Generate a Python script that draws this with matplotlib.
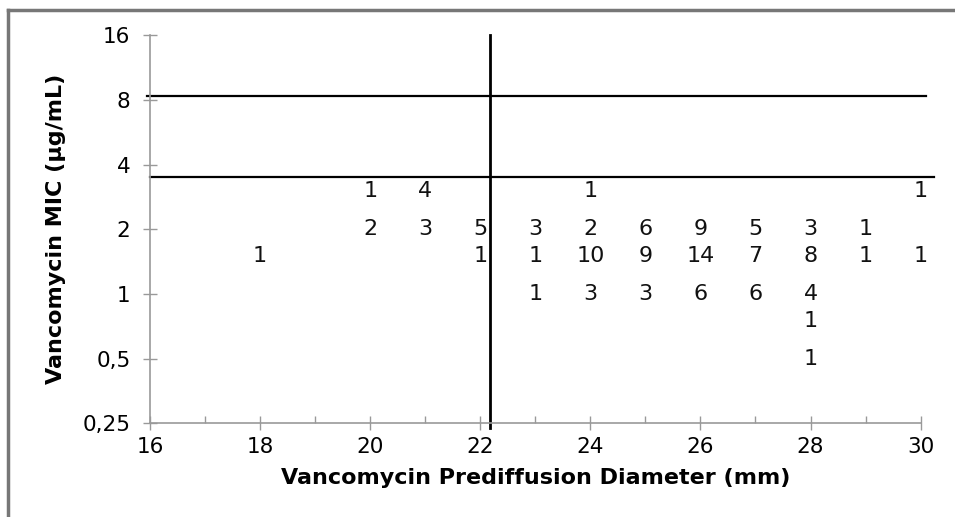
import matplotlib.pyplot as plt
from matplotlib.lines import Line2D
from matplotlib.ticker import FixedLocator, NullFormatter

# ---------------------------
# Data: counts of isolates per (diameter, MIC)
# ---------------------------
diameters = [20, 21, 24, 30,
             20, 21, 22, 23, 24, 25, 26, 27, 28, 29,
             18, 22, 23, 24, 25, 26, 27, 28, 29, 30,
             23, 24, 25, 26, 27, 28,
             28,
             28]
mics = [3, 3, 3, 3,
        2, 2, 2, 2, 2, 2, 2, 2, 2, 2,
        1.5, 1.5, 1.5, 1.5, 1.5, 1.5, 1.5, 1.5, 1.5, 1.5,
        1, 1, 1, 1, 1, 1,
        0.75,
        0.5]
counts = [1, 4, 1, 1,
          2, 3, 5, 3, 2, 6, 9, 5, 3, 1,
          1, 1, 1, 10, 9, 14, 7, 8, 1, 1,
          1, 3, 3, 6, 6, 4,
          1,
          1]

y_ticks = [0.25, 0.5, 1, 2, 4, 8, 16]
y_tick_labels = ["0,25", "0,5", "1", "2", "4", "8", "16"]
x_ticks = [16, 18, 20, 22, 24, 26, 28, 30]
x_minor = [17, 19, 21, 23, 25, 27, 29]

# breakpoint lines
mic_upper = 8.3
mic_lower = 3.5
diam_break = 22.18

plt.rcParams.update({
    "font.family": ["DejaVu Sans"],
    "font.size": 15,
})

fig = plt.figure(figsize=(9.55, 5.17), dpi=100)
ax = fig.add_axes([0.157, 0.181, 0.807, 0.751])

ax.set_yscale("log", base=2)
ax.set_xlim(16, 30)
ax.set_ylim(0.25, 16)

for x, y, c in zip(diameters, mics, counts):
    ax.text(x, y, str(c), ha="center", va="center", fontsize=16, color="#111111")

# breakpoints
ax.plot([15.95, 30.1], [mic_upper, mic_upper], color="black", lw=1.6, clip_on=False)
ax.plot([16, 30.25], [mic_lower, mic_lower], color="black", lw=1.6, clip_on=False)
ax.plot([diam_break, diam_break], [0.237, 16], color="black", lw=2, clip_on=False)

ax.spines["top"].set_visible(False)
ax.spines["right"].set_visible(False)
for side in ["left", "bottom"]:
    ax.spines[side].set_color("#999999")
    ax.spines[side].set_linewidth(1.2)

ax.yaxis.set_major_locator(FixedLocator(y_ticks))
ax.set_yticklabels(y_tick_labels)
ax.yaxis.set_minor_locator(FixedLocator([]))
ax.yaxis.set_minor_formatter(NullFormatter())
ax.set_xticks(x_ticks)
ax.set_xticks(x_minor, minor=True)

ax.tick_params(axis="y", which="major", direction="inout", length=10, width=1, color="#999999", labelsize=15.5, pad=9)
ax.tick_params(axis="x", which="major", direction="inout", length=10, width=1, color="#999999", labelsize=15.5, pad=5)
ax.tick_params(axis="x", which="minor", direction="in", length=5, width=1, color="#999999")

ax.set_xlabel("Vancomycin Prediffusion Diameter (mm)", fontsize=16, fontweight="bold", labelpad=8)
ax.set_ylabel("Vancomycin MIC (µg/mL)", fontsize=16, fontweight="bold", labelpad=12)

# picture frame (top and left)
fig.add_artist(Line2D([8 / 955, 1], [1 - 10 / 517, 1 - 10 / 517], color="#777777", lw=2.5))
fig.add_artist(Line2D([8 / 955, 8 / 955], [0, 1 - 10 / 517], color="#777777", lw=2.5))

fig.savefig("out.png", dpi=100)
